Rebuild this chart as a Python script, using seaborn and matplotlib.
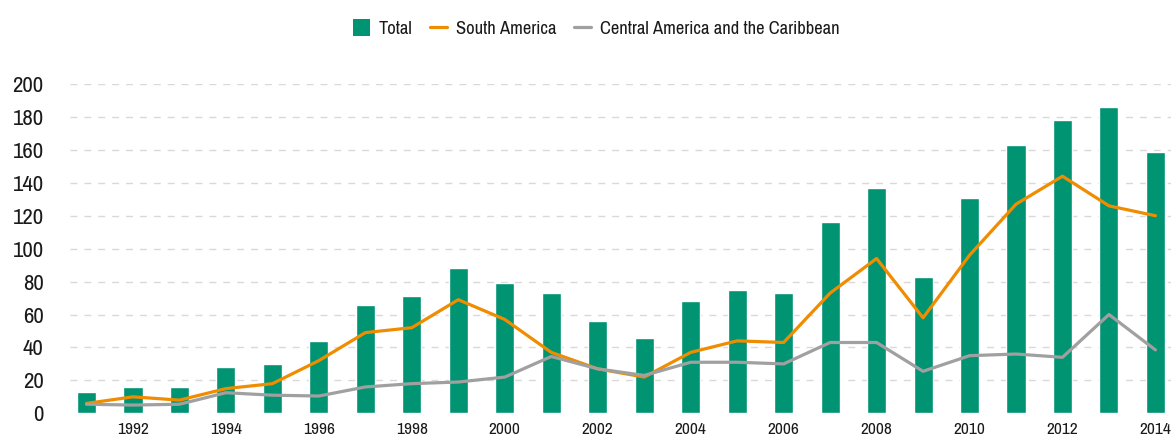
import numpy as np
import pandas as pd
import matplotlib
matplotlib.use("Agg")
import matplotlib.pyplot as plt
from matplotlib.patches import Patch
from matplotlib.lines import Line2D
import seaborn as sns

years = list(range(1991, 2015))
total = [13, 16, 16, 28, 30, 44, 66, 71, 88, 79, 73, 56, 46, 68, 75, 73,
         116, 137, 83, 131, 163, 178, 186, 159]
south_america = [6, 10, 8, 15, 18, 32, 49, 52, 69, 57, 37, 27, 22, 37, 44, 43,
                 73, 94, 58, 96, 127, 144, 126, 120]
central_caribbean = [5.5, 5, 5.5, 12.5, 11, 10.5, 16, 18, 19, 22, 34.5, 27, 23, 31, 31, 30,
                     43, 43, 25.5, 35, 36, 34, 60, 38.5]
y_ticks = list(range(0, 201, 20))

GREEN = "#009473"
ORANGE = "#F08C00"
GREY = "#A0A0A0"
TEXT = "#1a1a1a"

sns.set_theme(style="white")
plt.rcParams["font.family"] = ["Archivo Narrow", "DejaVu Sans"]

df = pd.DataFrame({
    "year": years,
    "Total": total,
    "South America": south_america,
    "Central America and the Caribbean": central_caribbean,
})
df["pos"] = np.arange(len(df))

fig = plt.figure(figsize=(11.71, 4.36), dpi=100)
ax = fig.add_axes([70 / 1171, 1 - 413.3 / 436, 1 - 70 / 1171, (413.3 - 84) / 436])

sns.barplot(data=df, x="pos", y="Total", color=GREEN, width=0.41,
            saturation=1, ax=ax, zorder=2)
sns.lineplot(data=df, x="pos", y="South America", color=ORANGE, linewidth=2.3,
             ax=ax, zorder=3, clip_on=False)
sns.lineplot(data=df, x="pos", y="Central America and the Caribbean", color=GREY,
             linewidth=2.3, ax=ax, zorder=3, clip_on=False)

ax.set_xlim(-0.355, len(years) - 1 + 0.335)
ax.set_ylim(0, 200)
ax.set_yticks(y_ticks)
ax.set_yticklabels([str(v) for v in y_ticks], fontsize=16.5, color=TEXT)
even = [i for i, y in enumerate(years) if y % 2 == 0]
ax.set_xticks(even)
ax.set_xticklabels([str(years[i]) for i in even], fontsize=12.5, color=TEXT)
ax.tick_params(axis="y", length=0, pad=19)
ax.tick_params(axis="x", length=0, pad=6)
ax.set_xlabel("")
ax.set_ylabel("")

ax.yaxis.grid(True, color="#d9d9d9", linestyle=(0, (5, 5)), linewidth=1.0)
ax.set_axisbelow(True)
ax.get_ygridlines()[0].set_visible(False)
for s in ax.spines.values():
    s.set_visible(False)

handles = [
    Patch(facecolor=GREEN, edgecolor="none"),
    Line2D([], [], color=ORANGE, linewidth=2.3),
    Line2D([], [], color=GREY, linewidth=2.3),
]
labels = ["Total", "South America", "Central America and the Caribbean"]
fig.legend(handles, labels, loc="center", bbox_to_anchor=(596 / 1171, 1 - 28 / 436),
           ncol=3, frameon=False, fontsize=13.3, handlelength=0.95, handleheight=1.0,
           columnspacing=0.95, handletextpad=0.45, labelcolor=TEXT)

fig.savefig("out.png", dpi=100)
